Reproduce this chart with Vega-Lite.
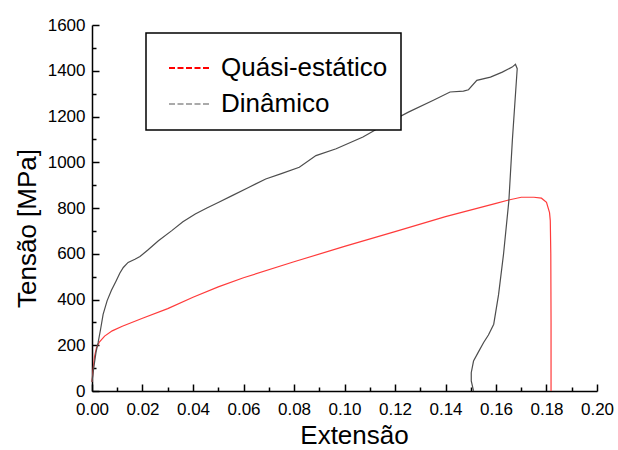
{
  "$schema": "https://vega.github.io/schema/vega-lite/v6.json",
  "width": 505,
  "height": 366,
  "autosize": {"type": "none"},
  "padding": {"left": 92, "top": 25, "right": 21, "bottom": 59},
  "background": "white",
  "config": {
    "view": {"stroke": null},
    "font": "Liberation Sans",
    "axis": {"grid": false, "labelFlush": false, "domainColor": "black", "domainWidth": 1.5, "tickColor": "black", "tickWidth": 1.5, "labelColor": "black", "titleColor": "black", "labelFont": "Liberation Sans", "titleFont": "Liberation Sans", "titleFontWeight": "normal", "labelFontSize": 17, "titleFontSize": 26}
  },
  "data": {"values": [
    {"s": "Quási-estático", "i": 0, "x": 0, "y": 40},
    {"s": "Quási-estático", "i": 1, "x": 0.0005, "y": 100},
    {"s": "Quási-estático", "i": 2, "x": 0.001, "y": 150},
    {"s": "Quási-estático", "i": 3, "x": 0.0018, "y": 190},
    {"s": "Quási-estático", "i": 4, "x": 0.003, "y": 215},
    {"s": "Quási-estático", "i": 5, "x": 0.005, "y": 240},
    {"s": "Quási-estático", "i": 6, "x": 0.008, "y": 263},
    {"s": "Quási-estático", "i": 7, "x": 0.012, "y": 283},
    {"s": "Quási-estático", "i": 8, "x": 0.02, "y": 318},
    {"s": "Quási-estático", "i": 9, "x": 0.03, "y": 360},
    {"s": "Quási-estático", "i": 10, "x": 0.04, "y": 410},
    {"s": "Quási-estático", "i": 11, "x": 0.05, "y": 455},
    {"s": "Quási-estático", "i": 12, "x": 0.06, "y": 495},
    {"s": "Quási-estático", "i": 13, "x": 0.08, "y": 565},
    {"s": "Quási-estático", "i": 14, "x": 0.1, "y": 632},
    {"s": "Quási-estático", "i": 15, "x": 0.12, "y": 697},
    {"s": "Quási-estático", "i": 16, "x": 0.14, "y": 762},
    {"s": "Quási-estático", "i": 17, "x": 0.16, "y": 820},
    {"s": "Quási-estático", "i": 18, "x": 0.165, "y": 835},
    {"s": "Quási-estático", "i": 19, "x": 0.17, "y": 847},
    {"s": "Quási-estático", "i": 20, "x": 0.175, "y": 847},
    {"s": "Quási-estático", "i": 21, "x": 0.178, "y": 843},
    {"s": "Quási-estático", "i": 22, "x": 0.18, "y": 825},
    {"s": "Quási-estático", "i": 23, "x": 0.1812, "y": 780},
    {"s": "Quási-estático", "i": 24, "x": 0.1815, "y": 745},
    {"s": "Quási-estático", "i": 25, "x": 0.1817, "y": 600},
    {"s": "Quási-estático", "i": 26, "x": 0.1818, "y": 300},
    {"s": "Quási-estático", "i": 27, "x": 0.1818, "y": 0},
    {"s": "Dinâmico", "i": 0, "x": 0, "y": 40},
    {"s": "Dinâmico", "i": 1, "x": 0.0008, "y": 110},
    {"s": "Dinâmico", "i": 2, "x": 0.0016, "y": 170},
    {"s": "Dinâmico", "i": 3, "x": 0.0024, "y": 210},
    {"s": "Dinâmico", "i": 4, "x": 0.0034, "y": 270},
    {"s": "Dinâmico", "i": 5, "x": 0.0044, "y": 335},
    {"s": "Dinâmico", "i": 6, "x": 0.006, "y": 395},
    {"s": "Dinâmico", "i": 7, "x": 0.0077, "y": 440},
    {"s": "Dinâmico", "i": 8, "x": 0.0095, "y": 480},
    {"s": "Dinâmico", "i": 9, "x": 0.011, "y": 515},
    {"s": "Dinâmico", "i": 10, "x": 0.0124, "y": 540},
    {"s": "Dinâmico", "i": 11, "x": 0.0143, "y": 562},
    {"s": "Dinâmico", "i": 12, "x": 0.017, "y": 576},
    {"s": "Dinâmico", "i": 13, "x": 0.019, "y": 588},
    {"s": "Dinâmico", "i": 14, "x": 0.022, "y": 615},
    {"s": "Dinâmico", "i": 15, "x": 0.0263, "y": 657},
    {"s": "Dinâmico", "i": 16, "x": 0.0316, "y": 701},
    {"s": "Dinâmico", "i": 17, "x": 0.036, "y": 740},
    {"s": "Dinâmico", "i": 18, "x": 0.0409, "y": 774},
    {"s": "Dinâmico", "i": 19, "x": 0.0455, "y": 800},
    {"s": "Dinâmico", "i": 20, "x": 0.0502, "y": 825},
    {"s": "Dinâmico", "i": 21, "x": 0.0555, "y": 854},
    {"s": "Dinâmico", "i": 22, "x": 0.062, "y": 890},
    {"s": "Dinâmico", "i": 23, "x": 0.0688, "y": 927},
    {"s": "Dinâmico", "i": 24, "x": 0.075, "y": 950},
    {"s": "Dinâmico", "i": 25, "x": 0.0821, "y": 978},
    {"s": "Dinâmico", "i": 26, "x": 0.0887, "y": 1029},
    {"s": "Dinâmico", "i": 27, "x": 0.0967, "y": 1059},
    {"s": "Dinâmico", "i": 28, "x": 0.1073, "y": 1110},
    {"s": "Dinâmico", "i": 29, "x": 0.116, "y": 1165},
    {"s": "Dinâmico", "i": 30, "x": 0.1253, "y": 1219},
    {"s": "Dinâmico", "i": 31, "x": 0.1352, "y": 1271},
    {"s": "Dinâmico", "i": 32, "x": 0.1418, "y": 1307},
    {"s": "Dinâmico", "i": 33, "x": 0.1471, "y": 1311},
    {"s": "Dinâmico", "i": 34, "x": 0.1491, "y": 1317},
    {"s": "Dinâmico", "i": 35, "x": 0.1524, "y": 1358},
    {"s": "Dinâmico", "i": 36, "x": 0.1578, "y": 1372},
    {"s": "Dinâmico", "i": 37, "x": 0.1625, "y": 1394},
    {"s": "Dinâmico", "i": 38, "x": 0.1664, "y": 1416},
    {"s": "Dinâmico", "i": 39, "x": 0.1677, "y": 1428},
    {"s": "Dinâmico", "i": 40, "x": 0.1684, "y": 1409},
    {"s": "Dinâmico", "i": 41, "x": 0.1665, "y": 1100},
    {"s": "Dinâmico", "i": 42, "x": 0.1651, "y": 832},
    {"s": "Dinâmico", "i": 43, "x": 0.163, "y": 600},
    {"s": "Dinâmico", "i": 44, "x": 0.161, "y": 420},
    {"s": "Dinâmico", "i": 45, "x": 0.1591, "y": 292},
    {"s": "Dinâmico", "i": 46, "x": 0.157, "y": 245},
    {"s": "Dinâmico", "i": 47, "x": 0.1551, "y": 212},
    {"s": "Dinâmico", "i": 48, "x": 0.153, "y": 170},
    {"s": "Dinâmico", "i": 49, "x": 0.1511, "y": 131},
    {"s": "Dinâmico", "i": 50, "x": 0.1502, "y": 80},
    {"s": "Dinâmico", "i": 51, "x": 0.1502, "y": 44},
    {"s": "Dinâmico", "i": 52, "x": 0.1511, "y": 0}
  ]},
  "layer": [
    {
      "mark": {"type": "line", "strokeWidth": 0},
      "encoding": {
        "x": {"field": "x", "type": "quantitative", "scale": {"domain": [0, 0.2], "nice": false},
          "axis": {"orient": "bottom", "values": [0.01, 0.03, 0.05, 0.07, 0.09, 0.11, 0.13, 0.15, 0.17, 0.19], "labels": false, "domain": false, "tickSize": -4, "title": null}},
        "y": {"field": "y", "type": "quantitative", "scale": {"domain": [0, 1600], "nice": false},
          "axis": {"orient": "left", "values": [100, 300, 500, 700, 900, 1100, 1300, 1500], "labels": false, "domain": false, "tickSize": -4, "title": null}},
        "color": {"field": "s", "type": "nominal",
          "scale": {"domain": ["Quási-estático", "Dinâmico"], "range": ["#ff0000", "#aaaaaa"]},
          "legend": {"title": null, "orient": "none", "legendX": 54, "legendY": 8, "direction": "vertical",
            "fillColor": "white", "strokeColor": "black", "padding": 13,
            "symbolType": "stroke", "symbolSize": 1764, "symbolStrokeWidth": 2, "symbolDash": [6, 2.5], "symbolOffset": 9, "symbolOpacity": 1,
            "labelFontSize": 26, "labelFont": "Liberation Sans", "labelColor": "black", "labelOffset": 9, "labelLimit": 400, "rowPadding": 1,
            "encode": {"legend": {"update": {"strokeWidth": {"value": 1.5}}}}}},
        "order": {"field": "i", "type": "quantitative"}
      }
    },
    {
      "mark": {"type": "line", "strokeWidth": 1.2},
      "encoding": {
        "x": {"field": "x", "type": "quantitative", "scale": {"domain": [0, 0.2], "nice": false},
          "axis": {"orient": "bottom", "values": [0, 0.02, 0.04, 0.06, 0.08, 0.1, 0.12, 0.14, 0.16, 0.18, 0.2], "format": ".2f", "tickSize": -7, "labelPadding": 17, "labelOverlap": false, "title": "Extensão", "titleX": 262, "titleY": 52, "titleBaseline": "alphabetic", "titleAnchor": null, "titleAlign": "center"}},
        "y": {"field": "y", "type": "quantitative", "scale": {"domain": [0, 1600], "nice": false},
          "axis": {"orient": "left", "values": [0, 200, 400, 600, 800, 1000, 1200, 1400, 1600], "format": "d", "tickSize": -7, "labelPadding": 14, "labelOverlap": false, "title": "Tensão [MPa]", "titleX": -57, "titleY": 203, "titleBaseline": "alphabetic", "titleAlign": "center", "titleAngle": 270}},
        "stroke": {"field": "s", "type": "nominal",
          "scale": {"domain": ["Quási-estático", "Dinâmico"], "range": ["#ff3b3b", "#4d4d4d"]},
          "legend": null},
        "order": {"field": "i", "type": "quantitative"}
      }
    }
  ],
  "resolve": {"axis": {"x": "independent", "y": "independent"}, "scale": {"color": "independent", "stroke": "independent"}}
}
